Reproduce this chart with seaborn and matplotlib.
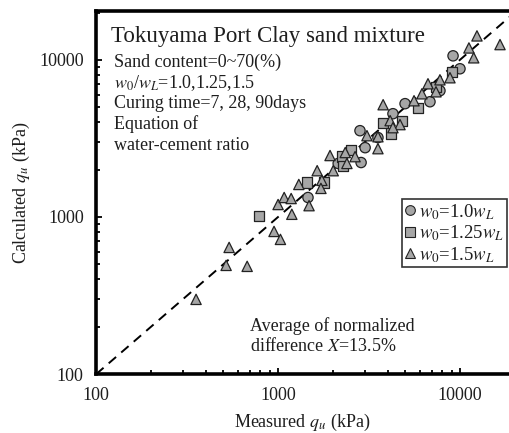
import numpy as np
import pandas as pd
import matplotlib
matplotlib.use("Agg")
import matplotlib.pyplot as plt
import seaborn as sns

# Measured vs calculated unconfined compressive strength q_u (kPa)
meas_10 = [9160, 10000, 7760, 6840, 4990, 4280, 2820, 3540, 3010, 2140, 2860, 1460]
calc_10 = [10600, 8770, 6360, 5410, 5260, 4540, 3540, 3200, 2760, 2190, 2220, 1330]

meas_125 = [9040, 7380, 5880, 3780, 4800, 4180, 2520, 2250, 2280, 1440, 1790, 787]
calc_125 = [8390, 6740, 4960, 3980, 4100, 3390, 2680, 2420, 2120, 1660, 1660, 1010]

meas_15 = [12400, 16600, 11200, 11900, 8810, 7760, 6670, 7380, 6180, 5590,
           3780, 4130, 4680, 4280, 3080, 3540, 3540, 1930, 2340, 2650,
           2390, 2010, 1640, 1300, 1740, 1720, 1000, 1080, 1180, 1480,
           1190, 950, 1030, 538, 518, 676, 354]
calc_15 = [14200, 12500, 11900, 10300, 7690, 7460, 7040, 6260, 6080, 5490,
           5180, 4100, 3870, 3700, 3290, 3240, 2720, 2460, 2570, 2420,
           2190, 1970, 1970, 1610, 1710, 1520, 1200, 1330, 1310, 1180,
           1040, 809, 720, 640, 492, 485, 299]

series_labels = [r"$w_{\mathit{0}}$=1.0$w_L$",
                 r"$w_{\mathit{0}}$=1.25$w_L$",
                 r"$w_{\mathit{0}}$=1.5$w_L$"]

df = pd.DataFrame({
    "measured": meas_10 + meas_125 + meas_15,
    "calculated": calc_10 + calc_125 + calc_15,
    "series": [series_labels[0]] * len(meas_10)
              + [series_labels[1]] * len(meas_125)
              + [series_labels[2]] * len(meas_15),
})

sns.set_style("ticks")
plt.rcParams["font.family"] = ["Liberation Serif", "DejaVu Serif"]
plt.rcParams["mathtext.fontset"] = "stix"
text_color = "#1e1e1e"

fig = plt.figure(figsize=(5.09, 4.33), dpi=100)
ax = fig.add_axes([0.189, 0.136, 0.811, 0.839])

ax.set_xscale("log")
ax.set_yscale("log")
ax.set_xlim(100, 18600)
ax.set_ylim(100, 20500)

# 1:1 line
line = np.array([100, 30000])
ax.plot(line, line, color="black", lw=1.4, ls=(0, (5, 3.5)), zorder=1)

sns.scatterplot(data=df, x="measured", y="calculated", style="series",
                markers={series_labels[0]: "o", series_labels[1]: "s",
                         series_labels[2]: "^"},
                color="#a6a6a6", edgecolor="#222222", linewidth=0.9,
                s=55, ax=ax, zorder=3, legend=False)

# legend
handles = []
for m, lab in zip(["o", "s", "^"], series_labels):
    handles.append(plt.Line2D([], [], ls="none", marker=m, markersize=7,
                              markerfacecolor="#a6a6a6",
                              markeredgecolor="#222222",
                              markeredgewidth=0.8, label=lab))
leg = ax.legend(handles=handles, loc="upper left",
                bbox_to_anchor=(0.741, 0.482), fontsize=13.5,
                frameon=True, fancybox=False, edgecolor="black",
                handlelength=0.5, handletextpad=0.25, borderpad=0.15,
                labelspacing=0.1, borderaxespad=0, labelcolor=text_color)
leg.get_frame().set_linewidth(1.2)

ax.set_xticks([100, 1000, 10000])
ax.set_xticklabels(["100", "1000", "10000"])
ax.set_yticks([100, 1000, 10000])
ax.set_yticklabels(["100", "1000", "10000"])
ax.tick_params(axis="both", which="both", direction="in", color="black",
               labelcolor=text_color, labelsize=13, width=1.3)
ax.tick_params(axis="both", which="major", length=4, pad=9)
ax.tick_params(axis="both", which="minor", length=3)
ax.tick_params(axis="x", which="both", top=False)
ax.tick_params(axis="y", which="both", right=False)

for side in ["left", "bottom", "top"]:
    ax.spines[side].set_linewidth(2.6)
    ax.spines[side].set_color("black")
ax.spines["right"].set_visible(False)

ax.set_xlabel(r"Measured $q_u$ (kPa)", fontsize=13, labelpad=6,
              color=text_color)
ax.set_ylabel(r"Calculated $q_u$ (kPa)", fontsize=13, labelpad=5,
              color=text_color)

ax.text(0.037, 0.93, "Tokuyama Port Clay sand mixture",
        transform=ax.transAxes, fontsize=16.5, va="center", ha="left",
        color=text_color)
info = ["Sand content=0~70(%)",
        r"$w_{\mathit{0}}$/$w_L$=1.0,1.25,1.5",
        "Curing time=7, 28, 90days",
        "Equation of",
        "water-cement ratio"]
for i, t in enumerate(info):
    ax.text(0.044, 0.858 - i * 0.057, t, transform=ax.transAxes,
            fontsize=13, va="center", ha="left", color=text_color)

ax.text(0.373, 0.105, "Average of normalized\ndifference $X$=13.5%",
        transform=ax.transAxes, fontsize=13, va="center", ha="left",
        linespacing=1.1, color=text_color)

fig.savefig("out.png", dpi=100)
